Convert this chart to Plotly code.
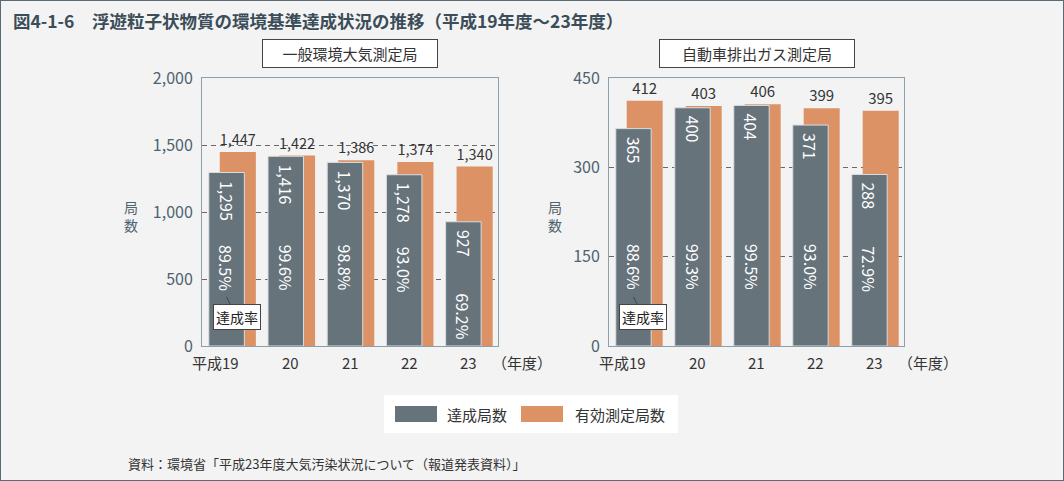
import plotly.graph_objects as go

# ---------------- data ----------------
years = ["平成19", "20", "21", "22", "23"]
general_achieved = [1295, 1416, 1370, 1278, 927]
general_valid = [1447, 1422, 1386, 1374, 1340]
general_rate = [89.5, 99.6, 98.8, 93.0, 69.2]
roadside_achieved = [365, 400, 404, 371, 288]
roadside_valid = [412, 403, 406, 399, 395]
roadside_rate = [88.6, 99.3, 99.5, 93.0, 72.9]
panel_titles = ["一般環境大気測定局", "自動車排出ガス測定局"]
legend_names = ["達成局数", "有効測定局数"]
y_max = [2000, 450]
y_step = [500, 150]

title_text = "図4-1-6　浮遊粒子状物質の環境基準達成状況の推移（平成19年度～23年度）"
source_text = "資料：環境省「平成23年度大気汚染状況について（報道発表資料）」"

# ---------------- style ----------------
W, H = 1064, 481
FONT = "Noto Sans CJK JP"
BG = "#f3f3f3"
DARK = "#66737b"
ORANGE = "#dc9265"
TXT = "#333333"
SLATE = "#4d6370"
FRAME = "#8d9fa8"

def fx(p):
    return p / W

def fy(p):
    return 1 - p / H

x_domains = [[fx(202), fx(498)], [fx(609), fx(904)]]
y_domain = [fy(346), fy(78)]

DARK_OFF, DARK_W = -0.385, 0.60
OR_OFF, OR_W = -0.20, 0.61
dark_center = DARK_OFF + DARK_W / 2

xs = list(range(len(years)))
panels = [
    (general_achieved, general_valid, general_rate),
    (roadside_achieved, roadside_valid, roadside_rate),
]

fig = go.Figure()
annotations = []
shapes = []

for k, (ach, val, rate) in enumerate(panels):
    xa = "x" if k == 0 else "x2"
    ya = "y" if k == 0 else "y2"
    fig.add_trace(go.Bar(
        x=xs, y=val, name=legend_names[1], xaxis=xa, yaxis=ya,
        offset=OR_OFF, width=OR_W,
        marker=dict(color=ORANGE, line=dict(width=0)),
        texttemplate="%{y:,}", textposition="outside", textangle=0,
        outsidetextfont=dict(family=FONT, size=15, color=TXT),
        cliponaxis=False, hoverinfo="skip", showlegend=False,
    ))
    fig.add_trace(go.Bar(
        x=xs, y=ach, name=legend_names[0], xaxis=xa, yaxis=ya,
        offset=DARK_OFF, width=DARK_W,
        marker=dict(color=DARK, line=dict(width=1, color="#d9dee0")),
        hoverinfo="skip", showlegend=False,
    ))
    ymax = y_max[k]
    for i, (a, r) in enumerate(zip(ach, rate)):
        # value label at the top of the dark bar (rotated)
        annotations.append(dict(
            x=i + dark_center, y=a, xref=xa, yref=ya, text=f"{a:,}",
            textangle=90, showarrow=False, xanchor="center", yanchor="top",
            yshift=-6, font=dict(family=FONT, size=16, color="white"),
        ))
        # achievement rate label
        ypos = min(0.293 * ymax, a - 0.355 * ymax)
        annotations.append(dict(
            x=i + dark_center, y=ypos, xref=xa, yref=ya, text=f"{r:.1f}%",
            textangle=90, showarrow=False,
            font=dict(family=FONT, size=16, color="white"),
        ))
    # x category labels
    for i, lab in enumerate(years):
        annotations.append(dict(
            x=i, y=0, xref=xa, yref=f"{ya} domain", text=lab,
            xanchor="right" if i == 0 else "center", yanchor="top",
            xshift=9 if i == 0 else 0, yshift=-4,
            showarrow=False, font=dict(family=FONT, size=15, color=TXT),
        ))
    annotations.append(dict(
        x=1, y=0, xref=f"{xa} domain", yref=f"{ya} domain", text="（年度）",
        xanchor="left", yanchor="top", xshift=-8, yshift=-4,
        showarrow=False, font=dict(family=FONT, size=15, color=TXT),
    ))
    # y axis title
    annotations.append(dict(
        x=fx(131 if k == 0 else 555), y=fy(216), xref="paper", yref="paper",
        text="局<br>数", showarrow=False, align="center",
        xanchor="center", yanchor="middle",
        font=dict(family=FONT, size=14, color=SLATE),
    ))
    # panel title box
    cx = (x_domains[k][0] + x_domains[k][1]) / 2
    annotations.append(dict(
        x=cx, y=fy(53.5), xref="paper", yref="paper", text=panel_titles[k],
        xanchor="center", yanchor="middle",
        showarrow=False, bgcolor="white", bordercolor="#444444", borderwidth=1,
        borderpad=0, width=174 if k == 0 else 194, height=27,
        font=dict(family=FONT, size=15, color=TXT),
    ))
    # 達成率 callout
    annotations.append(dict(
        x=dark_center, y=0.183, xref=xa, yref=f"{ya} domain", text="達成率",
        showarrow=True, arrowhead=0, arrowwidth=1, arrowcolor="#444444",
        ax=10, ay=20, bgcolor="white", bordercolor="#444444", borderwidth=1,
        borderpad=2, font=dict(family=FONT, size=14, color="#222222"),
    ))

# main title
annotations.append(dict(
    x=fx(11), y=fy(20.5), xref="paper", yref="paper", text=title_text,
    xanchor="left", yanchor="middle", showarrow=False,
    font=dict(family=FONT, size=17.5, color="#3b4d58", weight="bold"),
))
# source
annotations.append(dict(
    x=fx(126), y=fy(463), xref="paper", yref="paper", text=source_text,
    xanchor="left", yanchor="middle", showarrow=False,
    font=dict(family=FONT, size=13, color=TXT),
))

# custom legend
shapes.append(dict(type="rect", xref="paper", yref="paper",
                   x0=fx(384), x1=fx(678), y0=fy(433), y1=fy(395),
                   fillcolor="white", line=dict(width=0), layer="below"))
shapes.append(dict(type="rect", xref="paper", yref="paper",
                   x0=fx(395), x1=fx(437), y0=fy(422), y1=fy(406),
                   fillcolor=DARK, line=dict(width=0)))
shapes.append(dict(type="rect", xref="paper", yref="paper",
                   x0=fx(521), x1=fx(563), y0=fy(422), y1=fy(406),
                   fillcolor=ORANGE, line=dict(width=0)))
annotations.append(dict(
    x=fx(445), y=fy(414.5), xref="paper", yref="paper", text=legend_names[0],
    xanchor="left", yanchor="middle", showarrow=False,
    font=dict(family=FONT, size=15, color=TXT),
))
annotations.append(dict(
    x=fx(573), y=fy(414.5), xref="paper", yref="paper", text=legend_names[1],
    xanchor="left", yanchor="middle", showarrow=False,
    font=dict(family=FONT, size=15, color=TXT),
))
# outer frame
shapes.append(dict(type="rect", xref="paper", yref="paper",
                   x0=0, x1=1, y0=0, y1=1,
                   line=dict(color="#5b6b75", width=2)))

def xaxis(k):
    return dict(domain=x_domains[k], range=[-0.5, len(years) - 0.5],
                anchor="y" if k == 0 else "y2",
                showgrid=False, showticklabels=False, zeroline=False,
                showline=True, mirror=True, linecolor=FRAME, linewidth=1,
                ticks="", fixedrange=True, automargin=False)

def yaxis(k):
    return dict(domain=y_domain, range=[0, y_max[k]], dtick=y_step[k],
                anchor="x" if k == 0 else "x2",
                tickformat=",", showgrid=True, gridcolor="#6a6a6a",
                griddash="5px,4px", gridwidth=1, zeroline=False,
                showline=True, mirror=True, linecolor=FRAME, linewidth=1,
                ticks="", ticklabelstandoff=5, automargin=False,
                tickfont=dict(family=FONT, size=16, color=SLATE),
                fixedrange=True)

fig.update_layout(
    width=W, height=H, autosize=False,
    margin=dict(l=0, r=0, t=0, b=0, pad=0, autoexpand=False),
    paper_bgcolor=BG, plot_bgcolor=BG,
    barmode="overlay", showlegend=False,
    font=dict(family=FONT, color=TXT),
    xaxis=xaxis(0), yaxis=yaxis(0),
    xaxis2=xaxis(1), yaxis2=yaxis(1),
    annotations=annotations, shapes=shapes,
)

fig.write_html("out.html", config={"displayModeBar": False},
               post_script="document.body.style.margin='0';")
